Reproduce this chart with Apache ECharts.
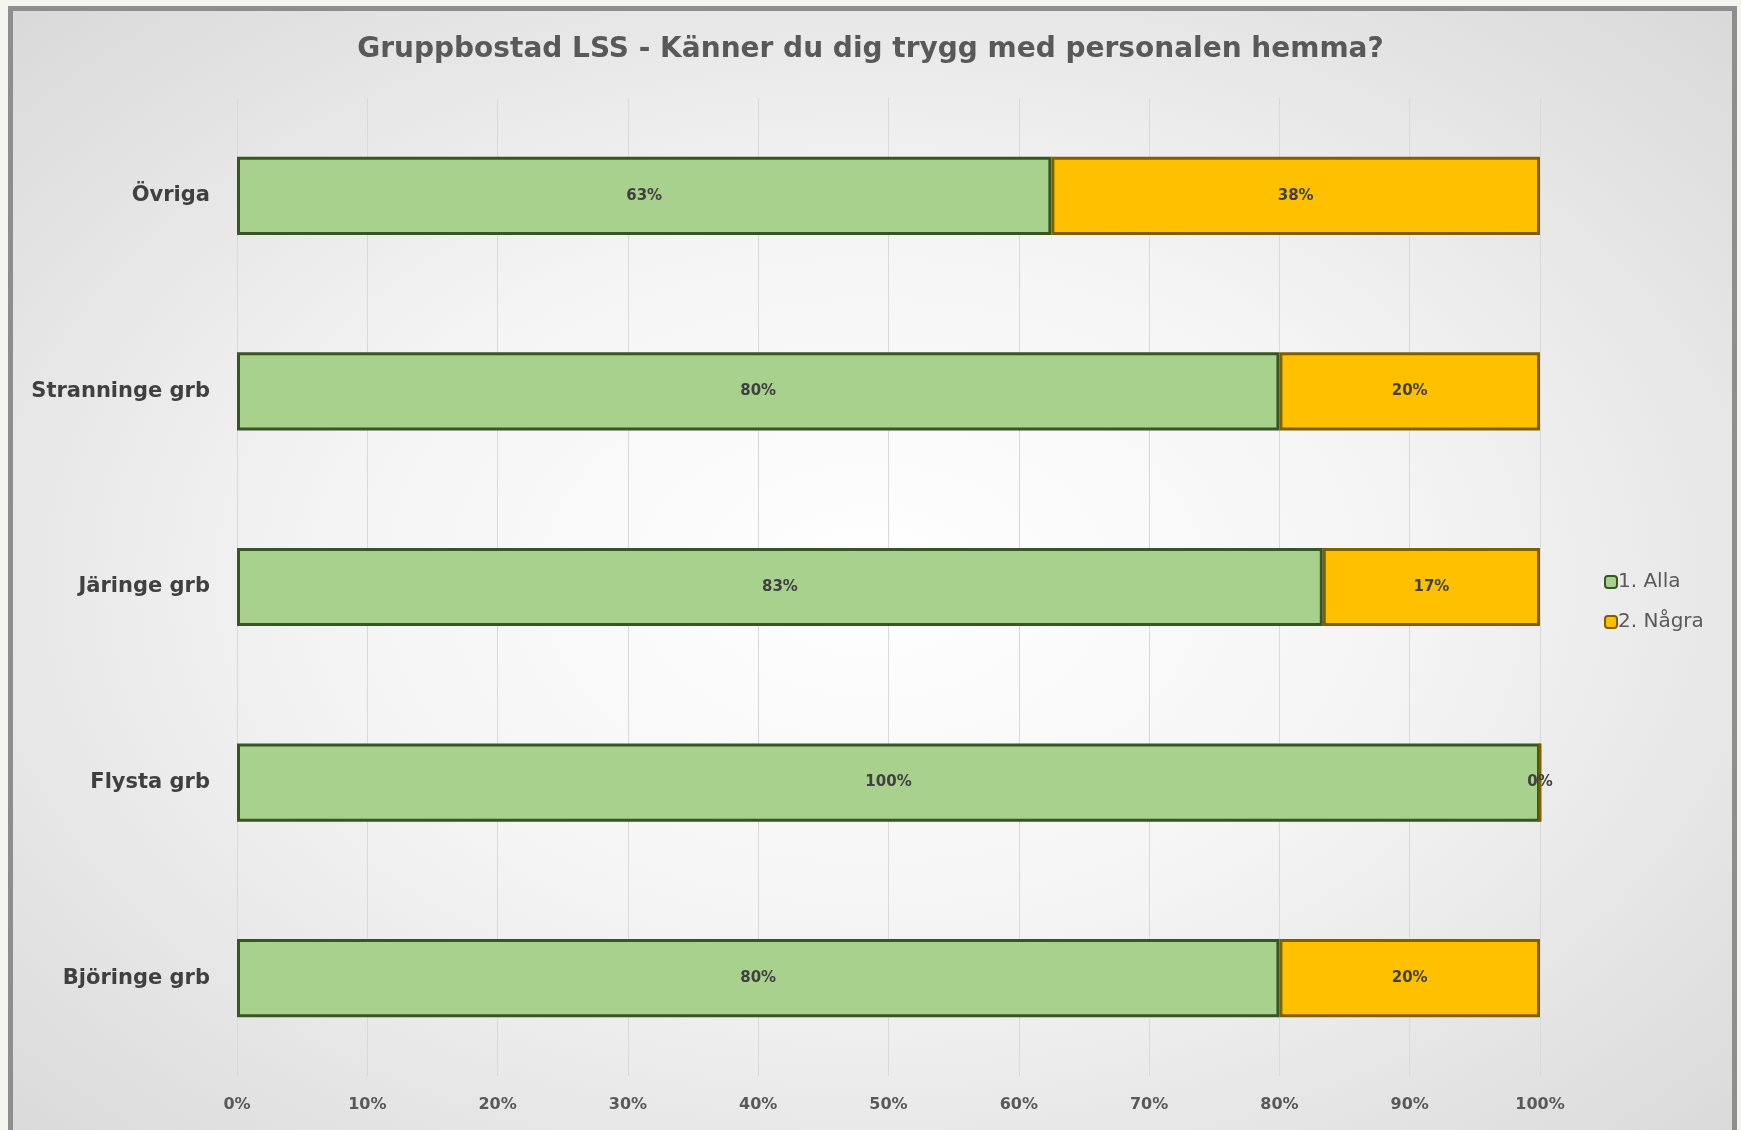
<!DOCTYPE html>
<html>
<head>
<meta charset="utf-8">
<script src="https://cdn.jsdelivr.net/npm/echarts@6/dist/echarts.min.js"></script>
<style>
  html, body { margin: 0; padding: 0; background: #f5f5f0; overflow: hidden; }
  #frame {
    position: absolute; left: 8px; top: 6px; width: 1719px; height: 1140px;
    border: 5px solid #8e8e8e;
    background: radial-gradient(ellipse at 50% 50%, #ffffff 0%, #f4f4f4 45%, #d9d9d9 100%);
  }
  #main { position: absolute; left: 0; top: 0; width: 1741px; height: 1130px; }
</style>
</head>
<body>
<div id="frame"></div>
<div id="main"></div>
<script>
// kategorier uppifrån och ner i diagrammet
var categories = ['Björinge grb', 'Flysta grb', 'Järinge grb', 'Stranninge grb', 'Övriga'];
var alla = [80, 100, 83.33, 80, 62.5];
var nagra = [20, 0, 16.67, 20, 37.5];
var seriesNames = ['1. Alla', '2. Några'];
var tickLabels = ['0%', '10%', '20%', '30%', '40%', '50%', '60%', '70%', '80%', '90%', '100%'];

var chart = echarts.init(document.getElementById('main'), null, { renderer: 'canvas' });

var font = 'DejaVu Sans';

var labelOpt = {
  show: true,
  position: 'inside',
  color: '#404040',
  fontSize: 15,
  fontWeight: 'bold',
  fontFamily: font,
  formatter: function (p) { return Math.round(p.value) + '%'; }
};

var option = {
  backgroundColor: 'transparent',
  title: {
    text: 'Gruppbostad LSS - Känner du dig trygg med personalen hemma?',
    left: 'center',
    top: 31,
    textStyle: { color: '#595959', fontSize: 28, fontWeight: 'bold', fontFamily: font }
  },
  legend: {
    data: seriesNames,
    orient: 'vertical',
    left: 1599,
    top: 567,
    itemWidth: 12,
    itemHeight: 12,
    itemGap: 20,
    textStyle: { color: '#595959', fontSize: 20, fontFamily: font, padding: [0, 0, 0, -4] }
  },
  grid: {
    left: 237,
    right: 201,
    top: 98,
    bottom: 54,
    containLabel: false
  },
  xAxis: {
    type: 'value',
    min: 0,
    max: 100,
    interval: 10,
    axisLine: { show: false },
    axisTick: { show: false },
    splitLine: { lineStyle: { color: '#d9d9d9', width: 1 } },
    axisLabel: {
      color: '#595959',
      fontSize: 16,
      fontWeight: 'bold',
      fontFamily: font,
      margin: 21,
      formatter: function (v) { return tickLabels[Math.round(v / 10)]; }
    }
  },
  yAxis: {
    type: 'category',
    data: categories,
    axisLine: { show: false },
    axisTick: { show: false },
    axisLabel: { color: '#404040', fontSize: 21, fontWeight: 'bold', fontFamily: font, margin: 27 }
  },
  series: [{
    name: seriesNames[0],
    type: 'bar',
    stack: 'total',
    barCategoryGap: '60%',
    data: alla,
    itemStyle: { color: '#a9d18e', borderColor: '#375623', borderWidth: 3 },
    label: labelOpt
  }, {
    name: seriesNames[1],
    type: 'bar',
    stack: 'total',
    data: nagra,
    itemStyle: { color: '#ffc000', borderColor: '#7f6000', borderWidth: 3 },
    label: labelOpt
  }]
};

chart.setOption(option);
</script>
</body>
</html>
